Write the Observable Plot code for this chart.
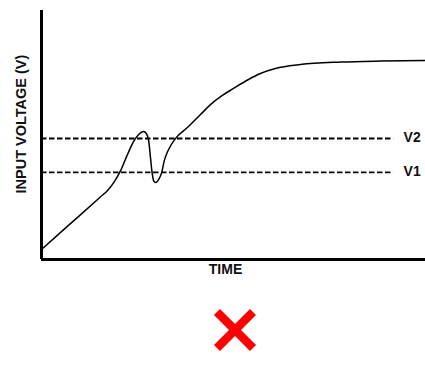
<!DOCTYPE html>
<html>
<head>
<meta charset="utf-8">
<script src="https://cdn.jsdelivr.net/npm/d3@7"></script>
<script src="https://cdn.jsdelivr.net/npm/@observablehq/plot@0.6"></script>
<style>
  html, body { margin: 0; padding: 0; background: #fff; }
  #wrap { position: relative; width: 425px; height: 383px; }
  #icon { position: absolute; left: 213px; top: 308px; }
</style>
</head>
<body>
<div id="wrap"></div>
<script>
// Input voltage curve (arbitrary units: time 0–10, voltage 0–10)
const time    = [0.00, 0.49, 1.02, 1.54, 1.72, 1.88, 2.06, 2.24, 2.40, 2.53, 2.66, 2.73, 2.79, 2.84, 2.88, 2.92, 2.97, 3.05, 3.13, 3.20, 3.31, 3.49, 3.80, 4.14, 4.40, 4.71, 5.00, 5.39, 5.70, 6.09, 6.74, 7.79, 8.83, 10.0];
const voltage = [0.40, 1.08, 1.80, 2.52, 2.77, 3.09, 3.57, 4.22, 4.74, 5.02, 5.14, 5.06, 4.78, 4.06, 3.49, 3.17, 3.09, 3.21, 3.49, 3.98, 4.42, 4.86, 5.30, 5.82, 6.22, 6.59, 6.87, 7.23, 7.47, 7.67, 7.83, 7.93, 7.97, 7.99];

// Threshold levels
const thresholdNames  = ["V2", "V1"];
const thresholdValues = [4.86, 3.50];
const thresholdEnd = 9.17;
const labelTime = 9.43;

const xLabel = "TIME";
const yLabel = "INPUT VOLTAGE (V)";

const curve = time.map((t, i) => ({t, v: voltage[i]}));
const thresholds = thresholdNames.map((name, i) => ({name, v: thresholdValues[i]}));

const font = "'Liberation Sans', Arial, sans-serif";

const chart = Plot.plot({
  width: 425,
  height: 383,
  marginLeft: 41,
  marginRight: 0,
  marginTop: 10,
  marginBottom: 124,
  style: {fontFamily: font, background: "#fff", color: "#000"},
  x: {domain: [0, 10], axis: null},
  y: {domain: [0, 10], axis: null},
  marks: [
    Plot.ruleY(thresholds, {y: "v", x1: 0, x2: thresholdEnd, stroke: "#000", strokeWidth: 1.8, strokeDasharray: "5.5,2.5"}),
    Plot.text(thresholds, {y: "v", x: labelTime, text: "name", textAnchor: "start", fontSize: 14, fontWeight: "bold", fill: "#111", dy: -1}),
    Plot.line(curve, {x: "t", y: "v", curve: "monotone-x", stroke: "#000", strokeWidth: 1.5}),
    Plot.ruleX([0], {stroke: "#000", strokeWidth: 3}),
    Plot.ruleY([0], {stroke: "#000", strokeWidth: 3}),
    Plot.text([yLabel], {frameAnchor: "left", textAnchor: "middle", y: 5.44, rotate: -90, dx: -20, fontSize: 14.5, fontWeight: "bold", fill: "#111"}),
    Plot.text([xLabel], {frameAnchor: "bottom", dy: 14, dx: -8, fontSize: 14, fontWeight: "bold", fill: "#111"})
  ]
});

const wrap = document.getElementById("wrap");
wrap.appendChild(chart);

// red cross icon below the chart
const icon = document.createElement("div");
icon.id = "icon";
icon.innerHTML = '<svg width="44" height="44" viewBox="0 0 44 44"><path d="M4 4 L40 40 M40 4 L4 40" stroke="#f00" stroke-width="8.5" stroke-linecap="butt"/></svg>';
wrap.appendChild(icon);
</script>
</body>
</html>
